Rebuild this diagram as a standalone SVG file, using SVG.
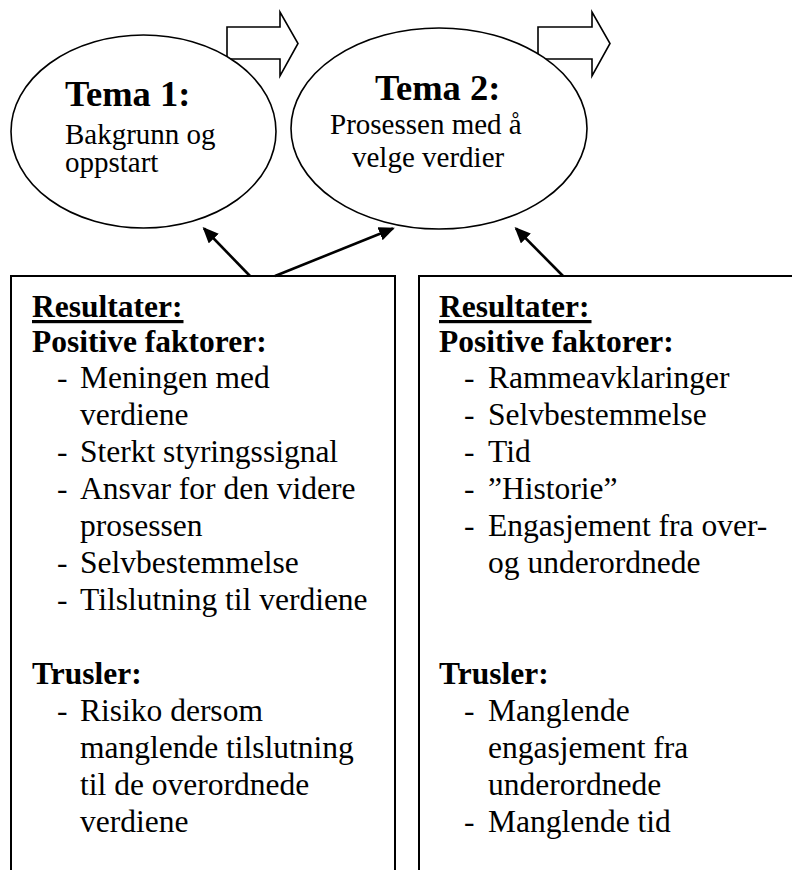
<svg xmlns="http://www.w3.org/2000/svg" width="792" height="870" viewBox="0 0 792 870">
  <style>
    text { font-family: "Liberation Serif", "Times New Roman", serif; fill: #000; }
    .title { font-size: 36.5px; font-weight: bold; }
    .sub { font-size: 29px; }
    .head { font-size: 31.5px; font-weight: bold; }
    .item { font-size: 31.5px; }
    .outline { fill: #fff; stroke: #000; stroke-width: 1.6; }
    .box { fill: #fff; stroke: #000; stroke-width: 2; }
    .link { stroke: #000; stroke-width: 2.6; fill: none; marker-end: url(#head); }
  </style>
  <defs>
    <marker id="head" viewBox="0 0 16 14" markerWidth="16" markerHeight="14" refX="14" refY="7" orient="auto" markerUnits="userSpaceOnUse">
      <path d="M0,0 L16,7 L0,14 z" fill="#000"/>
    </marker>
  </defs>

  <rect width="792" height="870" fill="#fff"/>

  <!-- block arrows pointing to the next theme -->
  <g id="flow-arrows">
    <polygon class="outline" points="227,27 280,27 280,12 298,43.5 280,76 280,59 227,59"/>
    <polygon class="outline" points="538,27 592,27 592,12 610,43.5 592,76 592,59 538,59"/>
  </g>

  <g id="tema1">
    <ellipse class="outline" cx="143.5" cy="131.5" rx="132.5" ry="96.5"/>
    <text class="title" x="65" y="106">Tema 1:</text>
    <text class="sub" x="65" y="144">Bakgrunn og</text>
    <text class="sub" x="65" y="172">oppstart</text>
  </g>

  <g id="tema2">
    <ellipse class="outline" cx="439" cy="128.5" rx="148" ry="100.5"/>
    <text class="title" x="375" y="99.5">Tema 2:</text>
    <text class="sub" x="330" y="134">Prosessen med å</text>
    <text class="sub" x="352" y="167">velge verdier</text>
  </g>

  <g id="resultater1">
    <path class="box" d="M11,872 L11,276 L395,276 L395,872"/>
    <text class="head" x="32" y="316.5">Resultater:</text>
    <rect x="32" y="320" width="151.5" height="3.2" fill="#000"/>
    <text class="head" x="32" y="352">Positive faktorer:</text>
    <text class="item" x="57" y="388">-</text><text class="item" x="80" y="388">Meningen med</text>
    <text class="item" x="80" y="425">verdiene</text>
    <text class="item" x="57" y="462">-</text><text class="item" x="80" y="462">Sterkt styringssignal</text>
    <text class="item" x="57" y="499">-</text><text class="item" x="80" y="499">Ansvar for den videre</text>
    <text class="item" x="80" y="536">prosessen</text>
    <text class="item" x="57" y="573">-</text><text class="item" x="80" y="573">Selvbestemmelse</text>
    <text class="item" x="57" y="610">-</text><text class="item" x="80" y="610">Tilslutning til verdiene</text>
    <text class="head" x="32" y="684">Trusler:</text>
    <text class="item" x="57" y="721">-</text><text class="item" x="80" y="721">Risiko dersom</text>
    <text class="item" x="80" y="758">manglende tilslutning</text>
    <text class="item" x="80" y="795">til de overordnede</text>
    <text class="item" x="80" y="832">verdiene</text>
  </g>

  <g id="resultater2">
    <path class="box" d="M419,872 L419,276 L794,276"/>
    <text class="head" x="439" y="316.5">Resultater:</text>
    <rect x="439" y="320" width="152.5" height="3.2" fill="#000"/>
    <text class="head" x="439" y="352">Positive faktorer:</text>
    <text class="item" x="464" y="388">-</text><text class="item" x="488" y="388">Rammeavklaringer</text>
    <text class="item" x="464" y="425">-</text><text class="item" x="488" y="425">Selvbestemmelse</text>
    <text class="item" x="464" y="462">-</text><text class="item" x="488" y="462">Tid</text>
    <text class="item" x="464" y="499">-</text><text class="item" x="488" y="499">”Historie”</text>
    <text class="item" x="464" y="536">-</text><text class="item" x="488" y="536">Engasjement fra over-</text>
    <text class="item" x="488" y="573">og underordnede</text>
    <text class="head" x="439" y="684">Trusler:</text>
    <text class="item" x="464" y="721">-</text><text class="item" x="488" y="721">Manglende</text>
    <text class="item" x="488" y="758">engasjement fra</text>
    <text class="item" x="488" y="795">underordnede</text>
    <text class="item" x="464" y="832">-</text><text class="item" x="488" y="832">Manglende tid</text>
  </g>

  <!-- result boxes feed back into the themes -->
  <g id="connectors">
    <line class="link" x1="250" y1="276" x2="204" y2="228.5"/>
    <line class="link" x1="275" y1="276" x2="393" y2="228.5"/>
    <line class="link" x1="563" y1="276" x2="516" y2="228.5"/>
  </g>
</svg>
